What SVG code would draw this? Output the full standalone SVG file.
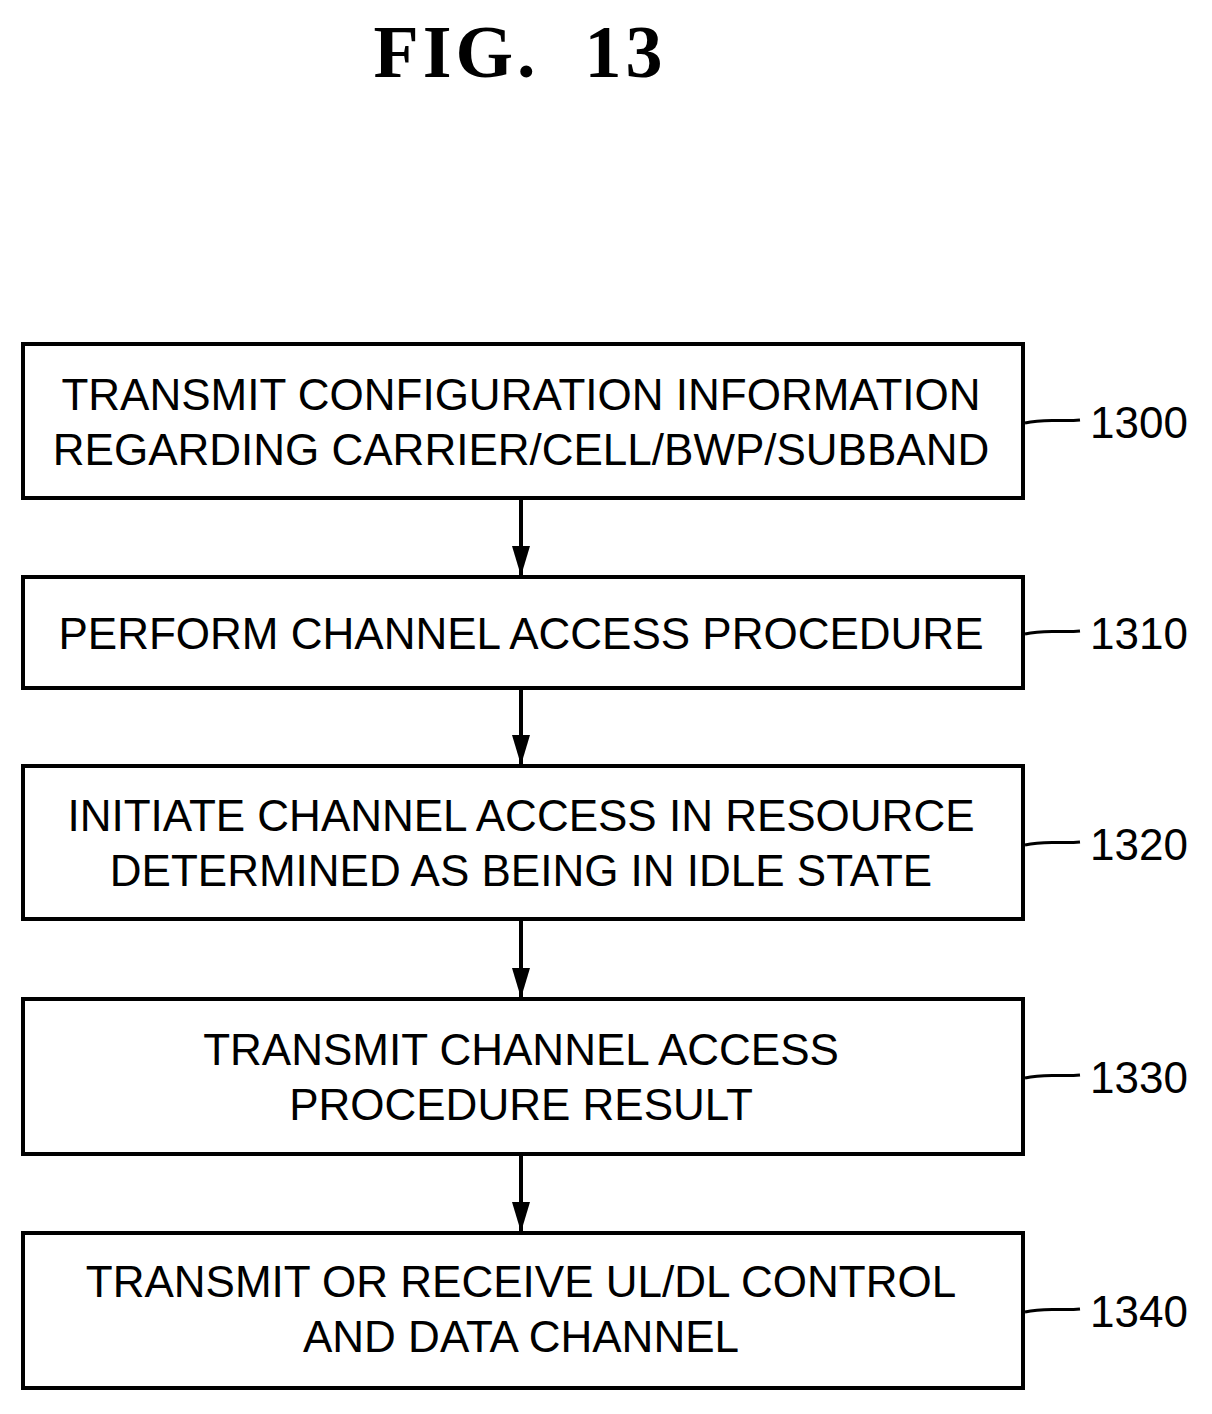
<svg xmlns="http://www.w3.org/2000/svg" width="1212" height="1414" viewBox="0 0 1212 1414">
<style>
.box{fill:#fff;stroke:#000;stroke-width:4}
.t{font-family:"Liberation Sans",Arial,sans-serif;font-size:44px;text-anchor:middle;fill:#000}
.n{font-family:"Liberation Sans",Arial,sans-serif;font-size:44px;fill:#000}
.c{fill:none;stroke:#000;stroke-width:3}
</style>
<defs>
<marker id="ah" viewBox="0 0 18 30" refX="9" refY="30" markerWidth="18" markerHeight="30" markerUnits="userSpaceOnUse" orient="0"><path d="M0,0 L18,0 L9,30Z" fill="#000"/></marker></defs>
<text x="520" y="77" font-family="Liberation Serif,serif" font-weight="bold" font-size="74" text-anchor="middle" letter-spacing="4" xml:space="preserve">FIG.  13</text>
<g id="n1300"><rect class="box" x="23" y="344" width="1000" height="154"/><text class="t" x="521" y="410">TRANSMIT CONFIGURATION INFORMATION</text><text class="t" x="521" y="465">REGARDING CARRIER/CELL/BWP/SUBBAND</text><path class="c" d="M1025,423 C1045,418 1060,422 1080,420"/><text class="n" x="1090" y="438">1300</text></g>
<g id="n1310"><rect class="box" x="23" y="577" width="1000" height="111"/><text class="t" x="521" y="649">PERFORM CHANNEL ACCESS PROCEDURE</text><path class="c" d="M1025,634 C1045,629 1060,633 1080,631"/><text class="n" x="1090" y="649">1310</text></g>
<g id="n1320"><rect class="box" x="23" y="766" width="1000" height="153"/><text class="t" x="521" y="831">INITIATE CHANNEL ACCESS IN RESOURCE</text><text class="t" x="521" y="886">DETERMINED AS BEING IN IDLE STATE</text><path class="c" d="M1025,845 C1045,840 1060,844 1080,842"/><text class="n" x="1090" y="860">1320</text></g>
<g id="n1330"><rect class="box" x="23" y="999" width="1000" height="155"/><text class="t" x="521" y="1065">TRANSMIT CHANNEL ACCESS</text><text class="t" x="521" y="1120">PROCEDURE RESULT</text><path class="c" d="M1025,1078 C1045,1073 1060,1077 1080,1075"/><text class="n" x="1090" y="1093">1330</text></g>
<g id="n1340"><rect class="box" x="23" y="1233" width="1000" height="155"/><text class="t" x="521" y="1297">TRANSMIT OR RECEIVE UL/DL CONTROL</text><text class="t" x="521" y="1352">AND DATA CHANNEL</text><path class="c" d="M1025,1312 C1045,1307 1060,1311 1080,1309"/><text class="n" x="1090" y="1327">1340</text></g>
<g id="connectors" stroke="#000" stroke-width="4">
<line x1="521" y1="500" x2="521" y2="576" marker-end="url(#ah)"/>
<line x1="521" y1="690" x2="521" y2="765" marker-end="url(#ah)"/>
<line x1="521" y1="921" x2="521" y2="998" marker-end="url(#ah)"/>
<line x1="521" y1="1156" x2="521" y2="1232" marker-end="url(#ah)"/>
</g>
</svg>
